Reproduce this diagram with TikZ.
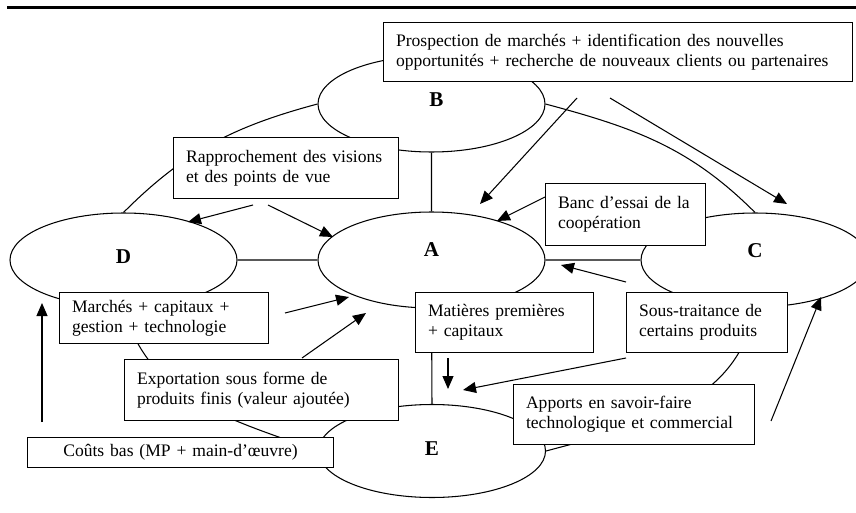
\documentclass[tikz,border=0pt]{standalone}
\usepackage{fontspec}
\setmainfont{Liberation Serif}
\usetikzlibrary{shapes.geometric,arrows.meta}
\tikzset{
	pole/.style={draw=black, fill=white, ellipse, inner sep=0pt, text depth=0.4cm, minimum width=4.54cm, minimum height=1.92cm, font=\fontsize{12}{14}\selectfont\bfseries},
	boite/.style={draw=black, fill=white, anchor=north west, inner xsep=0.25cm, align=left},
	fleche/.style={-{Triangle[length=0.26cm,width=0.22cm]}},
}
\begin{document}
\begin{tikzpicture}[line width=0.6pt, font=\fontsize{10}{11.4}\selectfont]
		\useasboundingbox (0,0) rectangle (17.12,10.24);
		\draw[line width=1.7pt] (0.15,10.09) -- (17.12,10.09);
		% les cinq poles
		\node[pole, text depth=0.18cm] (B) at (8.63,8.16) {\hspace{0.2cm}B};
		\node[pole] (A) at (8.63,5.04) {A};
		\node[pole, minimum height=1.88cm, text depth=0.14cm] (D) at (2.47,5.04) {D};
		\node[pole, minimum width=4.56cm, minimum height=1.88cm, text depth=0.36cm] (C) at (15.10,5.04) {C};
		\node[pole, minimum height=1.86cm, text depth=0.08cm] (E) at (8.64,1.22) {E};
		\draw (B.south) -- (A.north) (D.east) -- (A.west) (A.east) -- (C.west) (A.south) -- (E.north);
		\draw (B.west) to[out=195,in=45] (D.north);
		\draw (B.east) to[out=-15,in=135] (C.north);
		\draw (D.south) to[out=-75,in=160] (E.west);
		\draw (C.south) to[out=-100,in=15] (E.east);
		% les flux
		\node[boite, text width=8.88cm, minimum height=1.18cm] (pros) at (7.66,9.80) {Prospection de marchés + identification des nouvelles\\opportunités + recherche de nouveaux clients ou partenaires};
		\node[boite, text width=4.00cm, minimum height=1.22cm] (rapp) at (3.46,7.50) {Rapprochement des visions\\et des points de vue};
		\node[boite, text width=2.70cm, minimum height=1.24cm] (banc) at (10.90,6.58) {Banc d’essai de la\\coopération};
		\node[boite, text width=3.68cm, minimum height=1.02cm] (marc) at (1.18,4.40) {Marchés + capitaux +\\gestion + technologie};
		\node[boite, text width=3.06cm, minimum height=1.20cm] (mati) at (8.30,4.40) {Matières premières\\+ capitaux};
		\node[boite, text width=2.72cm, minimum height=1.20cm] (sous) at (12.52,4.40) {Sous-traitance de\\certains produits};
		\node[boite, text width=4.98cm, minimum height=1.22cm] (expo) at (2.48,3.06) {Exportation sous forme de\\produits finis (valeur ajoutée)};
		\node[boite, text width=4.32cm, minimum height=1.20cm] (appo) at (10.26,2.56) {Apports en savoir-faire\\technologique et commercial};
		\node[boite, text width=5.62cm, minimum height=0.60cm, align=center] (cout) at (0.54,1.50) {Coûts bas (MP + main-d’œuvre)};
		\path (5.06,6.14) coordinate (rappD) (3.76,5.80) coordinate (versD)
			(5.36,6.14) coordinate (rappA) (6.66,5.50) coordinate (versA1)
			(11.54,8.28) coordinate (prosA) (9.60,6.16) coordinate (versA2)
			(12.20,8.28) coordinate (prosC) (15.74,6.16) coordinate (versC1)
			(10.90,6.30) coordinate (bancA) (9.94,5.82) coordinate (versA3)
			(5.70,3.98) coordinate (marcA) (6.98,4.30) coordinate (versA4)
			(6.04,3.08) coordinate (expoA) (7.32,3.98) coordinate (versA5)
			(0.84,1.80) coordinate (coutD) (0.84,4.18) coordinate (versD2)
			(12.52,4.60) coordinate (sousA) (11.22,4.94) coordinate (versA6)
			(8.96,3.08) coordinate (matiE) (8.96,2.46) coordinate (versE1)
			(12.52,3.08) coordinate (sousE) (9.26,2.44) coordinate (versE2)
			(15.42,1.82) coordinate (appoC) (16.42,4.30) coordinate (versC2);
		\draw[fleche] (rappD) -- (versD);
		\draw[fleche] (rappA) -- (versA1);
		\draw[fleche] (prosA) -- (versA2);
		\draw[fleche] (prosC) -- (versC1);
		\draw[fleche] (bancA) -- (versA3);
		\draw[fleche] (marcA) -- (versA4);
		\draw[fleche] (expoA) -- (versA5);
		\draw[fleche] (coutD) -- (versD2);
		\draw[fleche] (sousA) -- (versA6);
		\draw[fleche] (matiE) -- (versE1);
		\draw[fleche] (sousE) -- (versE2);
		\draw[fleche] (appoC) -- (versC2);
	\end{tikzpicture}
\end{document}
